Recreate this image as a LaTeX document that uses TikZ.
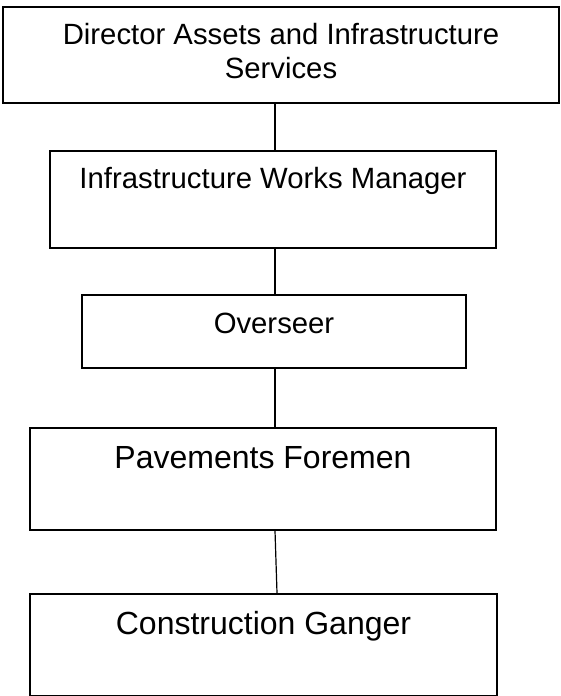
\documentclass[tikz,border=0pt]{standalone}
\usepackage{fontspec}
\setmainfont{Liberation Sans}
\usepackage{tikz}

\begin{document}
\begin{tikzpicture}[x=1pt,y=-1pt,
    post/.style={draw,line width=1.6pt,inner sep=0pt,anchor=north,align=center},
    small/.style={font=\fontsize{29.3}{34}\selectfont},
    big/.style={font=\fontsize{32}{38}\selectfont},
    link/.style={line width=1.2pt}]
            \useasboundingbox (0,0) rectangle (561,696);

            % two lines: height counts from the last baseline
            \node[post,small,minimum width=556pt,text height=72pt,text depth=24pt]
                at (281,6) (dir) {Director Assets and Infrastructure\\Services};
            \node[post,small,minimum width=446pt,text height=38pt,text depth=59pt]
                at (273,150) (mgr) {Infrastructure Works Manager};
            \node[post,small,minimum width=384pt,text height=39pt,text depth=34pt]
                at (274,294) (ovs) {Overseer};
            \node[post,big,minimum width=466pt,text height=41pt,text depth=61pt]
                at (263,427) (pav) {Pavements Foremen};
            \node[post,big,minimum width=467pt,text height=41pt,text depth=61pt]
                at (263.5,593) (gang) {Construction Ganger};

            \coordinate (spine) at (275,0);
            \draw[link] (dir.south -| spine) -- (mgr.north -| spine);
            \draw[link] (mgr.south -| spine) -- (ovs.north -| spine);
            \draw[link] (ovs.south -| spine) -- (pav.north -| spine);
            \draw[link] (pav.south -| spine) -- ([xshift=2pt]gang.north -| spine);
        \end{tikzpicture}
\end{document}
